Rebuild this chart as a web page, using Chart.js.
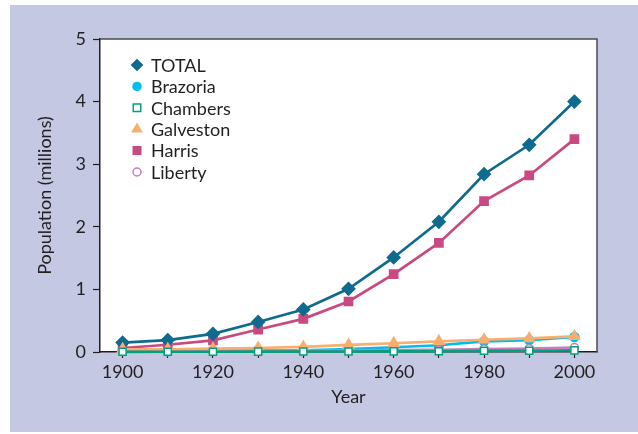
<!DOCTYPE html>
<html>
<head>
<meta charset="utf-8">
<style>
  body { margin: 0; background: #fff; }
  canvas { display: block; }
</style>
</head>
<body>
<canvas id="popChart" width="638" height="434"></canvas>

<script src="https://cdn.jsdelivr.net/npm/chart.js"></script>
<script>
(() => {
  // census years and county populations, in millions
  const years = [1900, 1910, 1920, 1930, 1940, 1950, 1960, 1970, 1980, 1990, 2000];
  const total     = [0.15, 0.19, 0.29, 0.48, 0.68, 1.01, 1.51, 2.08, 2.84, 3.31, 4.00];
  const brazoria  = [0.015, 0.013, 0.021, 0.023, 0.027, 0.047, 0.076, 0.108, 0.17, 0.19, 0.24];
  const chambers  = [0.003, 0.004, 0.004, 0.006, 0.008, 0.008, 0.010, 0.012, 0.019, 0.020, 0.026];
  const galveston = [0.044, 0.044, 0.053, 0.064, 0.081, 0.113, 0.140, 0.170, 0.196, 0.217, 0.250];
  const harris    = [0.064, 0.116, 0.187, 0.359, 0.529, 0.807, 1.243, 1.742, 2.41, 2.82, 3.40];
  const liberty   = [0.015, 0.015, 0.016, 0.020, 0.025, 0.027, 0.032, 0.033, 0.047, 0.053, 0.070];
  const yTicks = [0, 1, 2, 3, 4, 5];

  const FONT = "Lato, 'Open Sans', sans-serif";
  const INK = '#231f20';

  function series(label, data, color, style, radius, fill, order) {
    return {
      label: label,
      data: years.map((y, i) => ({ x: y, y: data[i] })),
      borderColor: color,
      backgroundColor: fill,
      pointBorderColor: color,
      pointBackgroundColor: fill,
      pointStyle: style,
      pointRadius: radius,
      pointBorderWidth: 1.5,
      borderWidth: 2.7,
      tension: 0,
      clip: false,
      order: order
    };
  }

  const datasets = [
    series('TOTAL', total, '#0f6b8e', 'rectRot', 6.3, '#0f6b8e', 2),
    series('Brazoria', brazoria, '#00bdf0', 'circle', 4.5, '#00bdf0', 5),
    series('Chambers', chambers, '#00a27e', 'rect', 5, '#ffffff', 0),
    series('Galveston', galveston, '#f8ae6e', 'triangle', 6, '#f8ae6e', 1),
    series('Harris', harris, '#c94a80', 'rect', 5.8, '#c94a80', 3),
    series('Liberty', liberty, '#c97bbd', 'circle', 4, '#ffffff', 4)
  ];

  // lavender panel behind the whole figure
  const panel = {
    id: 'panel',
    beforeDraw(chart) {
      const ctx = chart.ctx;
      ctx.save();
      ctx.fillStyle = '#c4c8e2';
      ctx.fillRect(10, 5, 628, 427);
      const a = chart.chartArea;
      ctx.fillStyle = '#ffffff';
      ctx.fillRect(a.left, a.top, a.right - a.left, a.bottom - a.top);
      ctx.restore();
    },
    afterDraw(chart) {
      // top and right edges of the plot box
      const ctx = chart.ctx;
      const a = chart.chartArea;
      ctx.save();
      ctx.strokeStyle = '#4a4a4e';
      ctx.lineWidth = 1.5;
      ctx.beginPath();
      ctx.moveTo(a.left, a.top);
      ctx.lineTo(a.right, a.top);
      ctx.lineTo(a.right, a.bottom);
      ctx.stroke();
      ctx.restore();
    }
  };

  // legend stacked in the upper left of the plot
  const insideLegend = {
    id: 'insideLegend',
    afterDraw(chart) {
      const ctx = chart.ctx;
      const a = chart.chartArea;
      const x0 = a.left + 37, y0 = a.top + 26, step = 21.4;
      ctx.save();
      ctx.font = '18px ' + FONT;
      ctx.textBaseline = 'middle';
      chart.data.datasets.forEach((ds, i) => {
        const y = y0 + i * step;
        ctx.fillStyle = ds.pointBackgroundColor;
        ctx.strokeStyle = ds.pointBorderColor;
        ctx.lineWidth = 1.5;
        Chart.helpers.drawPoint(ctx, {
          pointStyle: ds.pointStyle,
          radius: ds.pointStyle === 'circle' ? 4 : 5.3,
          rotation: 0,
          borderWidth: 1.5
        }, x0, y);
        ctx.fillStyle = INK;
        ctx.fillText(ds.label, x0 + 14, y + 1);
      });
      ctx.restore();
    }
  };

  new Chart(document.getElementById('popChart'), {
    type: 'line',
    data: { datasets: datasets },
    options: {
      responsive: false,
      animation: false,
      layout: { padding: { left: 0, top: 39, right: 41, bottom: 0 } },
      plugins: {
        legend: { display: false },
        tooltip: { enabled: false }
      },
      scales: {
        x: {
          type: 'linear',
          min: 1895,
          max: 2005,
          afterBuildTicks: s => { s.ticks = years.map(v => ({ value: v })); },
          afterFit: s => { s.height = 82; },
          grid: { drawOnChartArea: false, tickLength: 6, color: INK, tickWidth: 1.2 },
          border: { color: INK, width: 1.5 },
          ticks: {
            padding: 3,
            color: INK,
            font: { family: FONT, size: 18 },
            maxRotation: 0,
            autoSkip: false,
            callback: v => (v % 20 === 0 ? String(v) : '')
          },
          title: {
            display: true,
            text: 'Year',
            color: INK,
            font: { family: FONT, size: 18 },
            padding: { top: 0, bottom: 26 }
          }
        },
        y: {
          min: 0,
          max: 5,
          afterBuildTicks: s => { s.ticks = yTicks.map(v => ({ value: v })); },
          afterFit: s => { s.width = 100; },
          grid: { drawOnChartArea: false, tickLength: 7, color: INK, tickWidth: 1.2 },
          border: { color: INK, width: 1.5 },
          ticks: {
            padding: 7,
            color: INK,
            font: { family: FONT, size: 18 }
          },
          title: {
            display: true,
            text: 'Population (millions)',
            color: INK,
            font: { family: FONT, size: 18 },
            padding: { top: 34, bottom: 0 }
          }
        }
      }
    },
    plugins: [panel, insideLegend]
  });
})();
</script>
</body>
</html>
